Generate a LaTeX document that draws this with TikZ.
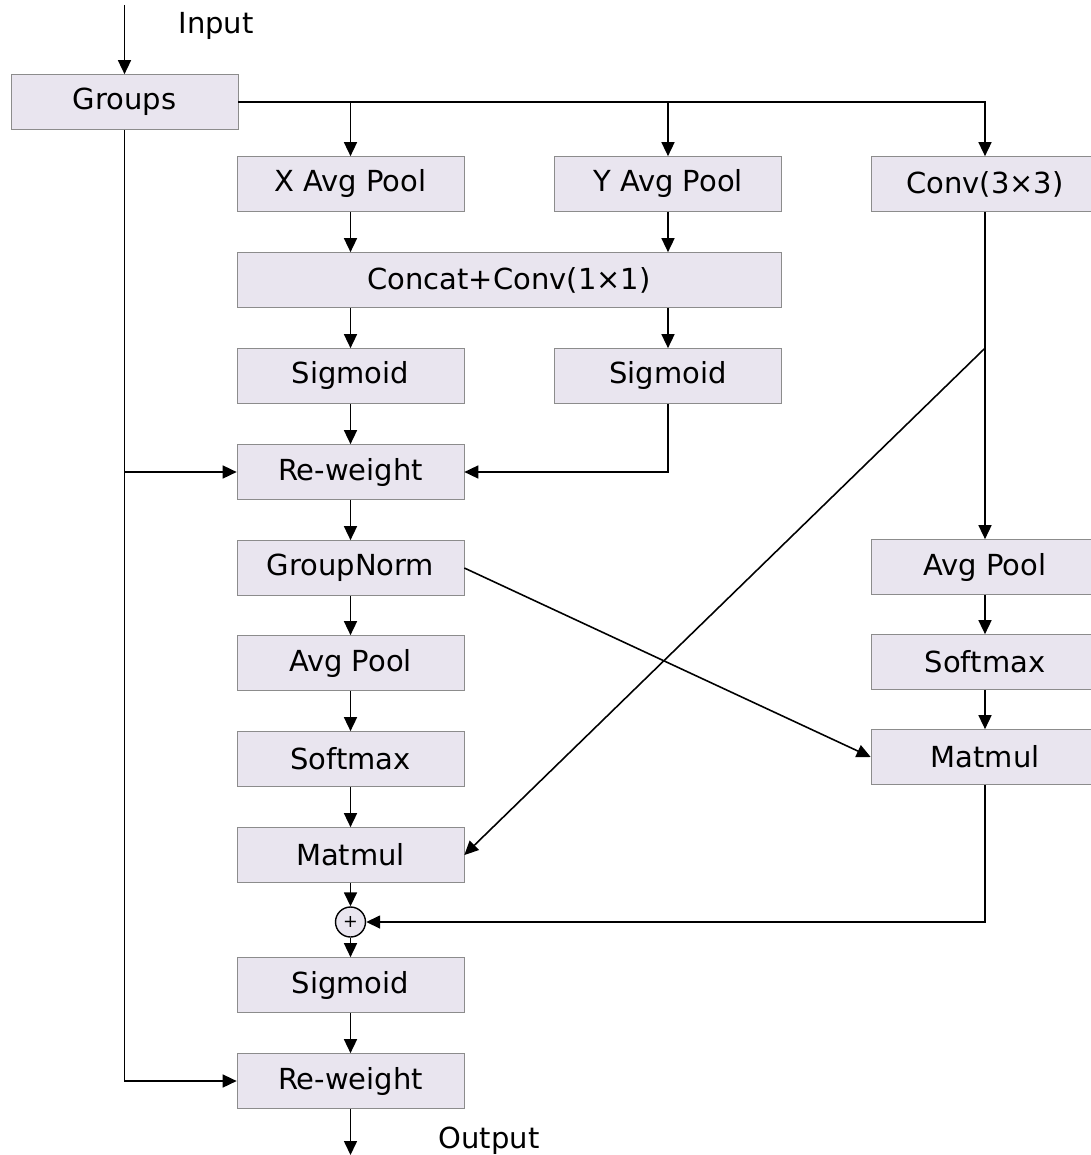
\documentclass[tikz,border=0pt]{standalone}
\usepackage{fontspec}
\setmainfont{DejaVu Sans}
\usetikzlibrary{arrows.meta}
\definecolor{boxfill}{HTML}{E9E5EF}
\definecolor{boxline}{HTML}{8C8C8C}
\begin{document}
\begin{tikzpicture}[x=0.02cm,y=-0.02cm,
    block/.style={draw=boxline,fill=boxfill,minimum width=4.54cm,minimum height=1.1cm,inner sep=0pt,font=\fontsize{16.5}{19}\selectfont},
    wide/.style={block,minimum width=10.88cm},
    side/.style={block,minimum width=4.56cm},
    flow/.style={-{Triangle[length=0.28cm,width=0.26cm]},line width=0.9pt},
    lbl/.style={font=\fontsize{16.5}{19}\selectfont}]
  \useasboundingbox (0,0) rectangle (1090,1155);
  % main column
  \node[block] (groups) at (124.5,102) {Groups};
  \node[block] (xpool) at (350.5,184) {X Avg Pool};
  \node[block] (ypool) at (668,184) {Y Avg Pool};
  \node[wide] (concat) at (509,280) {Concat+Conv(1×1)};
  \node[block] (sigl) at (350.5,376) {Sigmoid};
  \node[block] (sigr) at (668,376) {Sigmoid};
  \node[block] (rwa) at (350.5,472) {Re-weight};
  \node[block] (gn) at (350.5,568) {GroupNorm};
  \node[block] (pool) at (350.5,663) {Avg Pool};
  \node[block] (soft) at (350.5,759) {Softmax};
  \node[block] (mm) at (350.5,855) {Matmul};
  \node[circle,draw,fill=boxfill,line width=0.8pt,minimum size=0.6cm,inner sep=0pt,font=\normalsize] (add) at (350.5,922) {+};
  \node[block] (sig) at (350.5,985) {Sigmoid};
  \node[block] (rwb) at (350.5,1081) {Re-weight};
  % right column
  \node[side] (conv) at (985,184) {Conv(3×3)};
  \node[side] (cpool) at (985,567) {Avg Pool};
  \node[side] (csoft) at (985,662) {Softmax};
  \node[side] (cmm) at (985,757) {Matmul};
  % labels and free ends
  \coordinate (in) at (124.5,5);
  \coordinate (out) at (350.5,1155);
  \coordinate (tap) at (conv |- sigr.north);
  \node[lbl] (inlbl) at (216,26) {Input};
  \node[lbl] (outlbl) at (489,1141) {Output};
  % connectors
  \draw[flow] (in) -- (groups);
  \draw[flow] (groups.east) -| (conv);
  \draw[flow] (xpool |- groups.east) -- (xpool);
  \draw[flow] (ypool |- groups.east) -- (ypool);
  \draw[flow] (xpool) -- (xpool |- concat.north);
  \draw[flow] (ypool) -- (ypool |- concat.north);
  \draw[flow] (sigl |- concat.south) -- (sigl);
  \draw[flow] (sigr |- concat.south) -- (sigr);
  \draw[flow] (sigr) |- (rwa);
  \draw[flow] (groups) |- (rwb);
  \draw[flow] (groups |- rwa) -- (rwa);
  \foreach \a/\b in {sigl/rwa,rwa/gn,gn/pool,pool/soft,soft/mm,mm/add,add/sig,sig/rwb,conv/cpool,cpool/csoft,csoft/cmm}
    \draw[flow] (\a) -- (\b);
  \draw[flow] (tap) -- (mm.east);
  \draw[flow] (gn.east) -- (cmm.west);
  \draw[flow] (cmm) |- (add);
  \draw[flow] (rwb) -- (out);
\end{tikzpicture}
\end{document}
